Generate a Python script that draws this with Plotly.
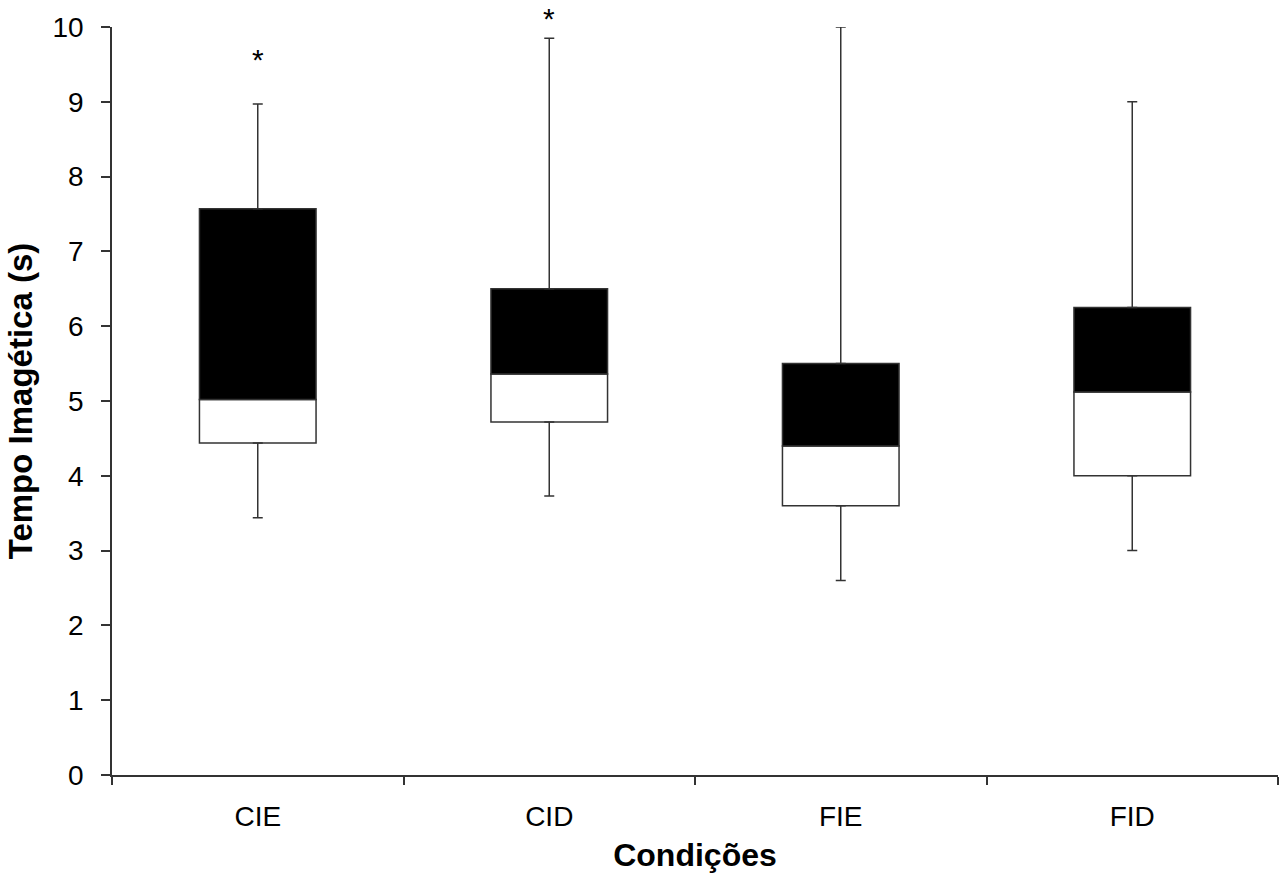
import plotly.graph_objects as go

# Box-plot summary per condition (seconds)
condicoes = ["CIE", "CID", "FIE", "FID"]
minimo = [3.44, 3.73, 2.60, 3.00]
q1 = [4.44, 4.72, 3.60, 4.00]
mediana = [5.02, 5.36, 4.40, 5.12]
q3 = [7.57, 6.50, 5.50, 6.25]
maximo = [8.97, 9.85, 10.00, 9.00]

# Conditions flagged with an asterisk and where the mark sits
destaque = ["CIE", "CID"]
destaque_y = [9.56, 10.11]

Y_MIN, Y_MAX = 0, 10

linha = "#333333"
fonte = "Liberation Sans, Arial, sans-serif"

fig = go.Figure()

# Whiskers: lower (min -> Q1) and upper (Q3 -> max)
fig.add_trace(go.Scatter(
    x=condicoes, y=q1, mode="markers",
    marker=dict(size=1, opacity=0),
    error_y=dict(type="data", symmetric=False,
                 array=[0] * len(q1),
                 arrayminus=[a - b for a, b in zip(q1, minimo)],
                 color=linha, thickness=1.5, width=5),
    hoverinfo="skip", showlegend=False,
))
fig.add_trace(go.Scatter(
    x=condicoes, y=q3, mode="markers",
    marker=dict(size=1, opacity=0),
    error_y=dict(type="data", symmetric=False,
                 array=[a - b for a, b in zip(maximo, q3)],
                 arrayminus=[0] * len(q3),
                 color=linha, thickness=1.5, width=5),
    hoverinfo="skip", showlegend=False,
))

# Box halves: white Q1 -> median, black median -> Q3
fig.add_trace(go.Bar(
    x=condicoes, y=[m - a for m, a in zip(mediana, q1)], base=q1,
    width=0.4, marker=dict(color="white", line=dict(color=linha, width=1.5)),
    hoverinfo="skip", showlegend=False,
))
fig.add_trace(go.Bar(
    x=condicoes, y=[b - m for b, m in zip(q3, mediana)], base=mediana,
    width=0.4, marker=dict(color="black", line=dict(color=linha, width=1.5)),
    hoverinfo="skip", showlegend=False,
))

# Asterisks above the flagged conditions; placed in paper units so the
# one sitting above the top of the axis range is still drawn
for cond, yv in zip(destaque, destaque_y):
    fig.add_annotation(
        x=cond, y=(yv - Y_MIN) / (Y_MAX - Y_MIN), xref="x", yref="paper",
        text="*", showarrow=False, xanchor="center", yanchor="middle",
        font=dict(family=fonte, size=30, color="black"),
    )

fig.update_layout(
    width=1285, height=875,
    margin=dict(l=112, r=7, t=27, b=100),
    paper_bgcolor="white", plot_bgcolor="white",
    barmode="overlay",
    font=dict(family=fonte, size=28, color="black"),
)

fig.update_xaxes(
    type="category", categoryorder="array", categoryarray=condicoes,
    range=[-0.5, 3.5], tickson="boundaries", automargin=False,
    showline=True, linecolor=linha, linewidth=1.5,
    ticks="outside", ticklen=8, tickcolor=linha, tickwidth=1.5,
    ticklabelstandoff=16, showgrid=False, zeroline=False,
    tickfont=dict(size=28),
    title=dict(text="<b>Condições</b>", font=dict(size=32), standoff=12),
)
fig.update_yaxes(
    range=[Y_MIN, Y_MAX], tickvals=list(range(0, 11)), automargin=False,
    showline=True, linecolor=linha, linewidth=1.5,
    ticks="outside", ticklen=9, tickcolor=linha, tickwidth=1.5,
    ticklabelstandoff=12, showgrid=False, zeroline=False,
    tickfont=dict(size=28),
    title=dict(text="<b>Tempo Imagética (s)</b>", font=dict(size=33), standoff=10),
)

fig.write_html("out.html")
